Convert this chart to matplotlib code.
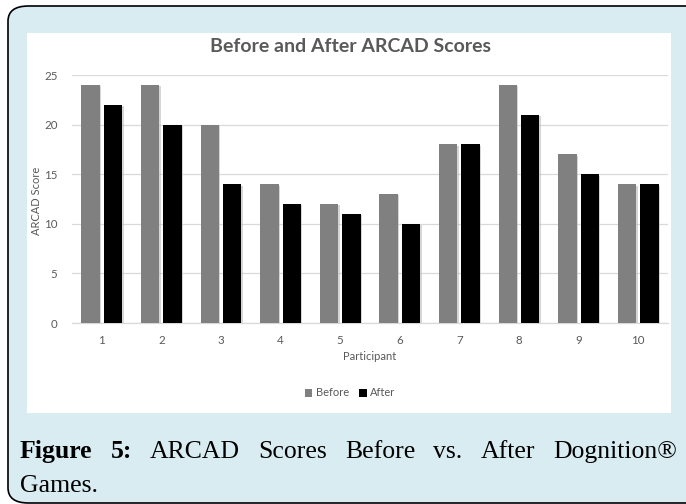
import matplotlib
matplotlib.use("Agg")
import matplotlib.pyplot as plt
from matplotlib.patches import FancyBboxPatch, Rectangle
import matplotlib.patheffects as pe
import numpy as np

participants = ["1", "2", "3", "4", "5", "6", "7", "8", "9", "10"]
before = [24, 24, 20, 14, 12, 13, 18, 24, 17, 14]
after = [22, 20, 14, 12, 11, 10, 18, 21, 15, 14]
yticks = [0, 5, 10, 15, 20, 25]
title = "Before and After ARCAD Scores"
caption_words = ["Figure", "5:", "ARCAD", "Scores", "Before", "vs.", "After", "Dognition®"]
caption_bold = [True, True, False, False, False, False, False, False]
caption_line2 = "Games."

W, H = 686, 504
fig = plt.figure(figsize=(W / 100, H / 100), dpi=100)

def fx(x):
    return x / W

def fy(y):
    return 1 - y / H

# outer panel
bg = FancyBboxPatch((fx(8), fy(503)), fx(710 - 8), (503 - 6) / H,
                    boxstyle="round,pad=0,rounding_size=0.03",
                    transform=fig.transFigure, facecolor="#d8ecf2",
                    edgecolor="black", linewidth=1.2, zorder=0)
fig.patches.append(bg)
# white chart area
wr = Rectangle((fx(27), fy(413)), fx(671 - 27), (413 - 33) / H,
               transform=fig.transFigure, facecolor="white", edgecolor="none", zorder=1)
fig.patches.append(wr)

ax = fig.add_axes([fx(72), fy(323), fx(668 - 72), (323 - 75) / H])
ax.set_facecolor("none")
ax.set_zorder(2)

x = np.arange(1, len(participants) + 1)
bw = 0.307
off = 0.188
shadow = [pe.SimplePatchShadow(offset=(1, -1), shadow_rgbFace="#bbbbbb", alpha=0.6), pe.Normal()]
b1 = ax.bar(x - off, before, width=bw, color="#808080", label="Before", zorder=3)
b2 = ax.bar(x + off, after, width=bw, color="#000000", label="After", zorder=3)
for p in list(b1) + list(b2):
    p.set_path_effects(shadow)

ax.set_xlim(0.5, len(participants) + 0.5)
ax.set_ylim(0, 25)
ax.set_yticks(yticks)
ax.set_xticks(x)
ax.set_xticklabels(participants)
ax.yaxis.grid(True, color="#d9d9d9", linewidth=0.9, zorder=0)
ax.set_axisbelow(True)
for s in ["top", "right", "left"]:
    ax.spines[s].set_visible(False)
ax.spines["bottom"].set_color("#d9d9d9")
ax.spines["bottom"].set_linewidth(0.9)
ax.tick_params(axis="both", length=0, labelsize=8.3, labelcolor="#595959")
ax.tick_params(axis="y", pad=10.5)
ax.tick_params(axis="x", pad=9)
for lab in ax.get_xticklabels() + ax.get_yticklabels():
    lab.set_fontfamily("Lato")

fig.text(fx(36), fy(201), "ARCAD Score", rotation=90, ha="center", va="center",
         fontsize=8, color="#595959", family="Lato")
fig.text(fx(370), fy(356), "Participant", ha="center", va="center",
         fontsize=8, color="#595959", family="Lato")
fig.text(fx(350), fy(46), title, ha="center", va="center", fontsize=14,
         fontweight="bold", color="#595959", family="Lato")

leg = fig.legend(handles=[b1, b2], labels=["Before", "After"], loc="center",
                 bbox_to_anchor=(fx(350), fy(393)), ncol=2, frameon=False,
                 handlelength=0.7, handleheight=0.7, handletextpad=0.3,
                 columnspacing=0.9, prop={"family": "Lato", "size": 8})
for t in leg.get_texts():
    t.set_color("#595959")
for h in leg.legend_handles:
    h.set_path_effects([])

# justified caption
cap_size = 18.5
fig.canvas.draw()
r = fig.canvas.get_renderer()
texts = []
widths = []
for w, b in zip(caption_words, caption_bold):
    t = fig.text(0, fy(458), w, fontsize=cap_size, family="Liberation Serif",
                 fontweight="bold" if b else "normal", color="black",
                 va="baseline", ha="left")
    texts.append(t)
    widths.append(t.get_window_extent(r).width)
left, right = 20, 677
gap = (right - left - sum(widths)) / (len(texts) - 1)
cur = left
for t, wd in zip(texts, widths):
    t.set_x(fx(cur))
    cur += wd + gap
fig.text(fx(20), fy(492), caption_line2, fontsize=cap_size, family="Liberation Serif",
         color="black", va="baseline", ha="left")

fig.savefig("out.png", dpi=100)
